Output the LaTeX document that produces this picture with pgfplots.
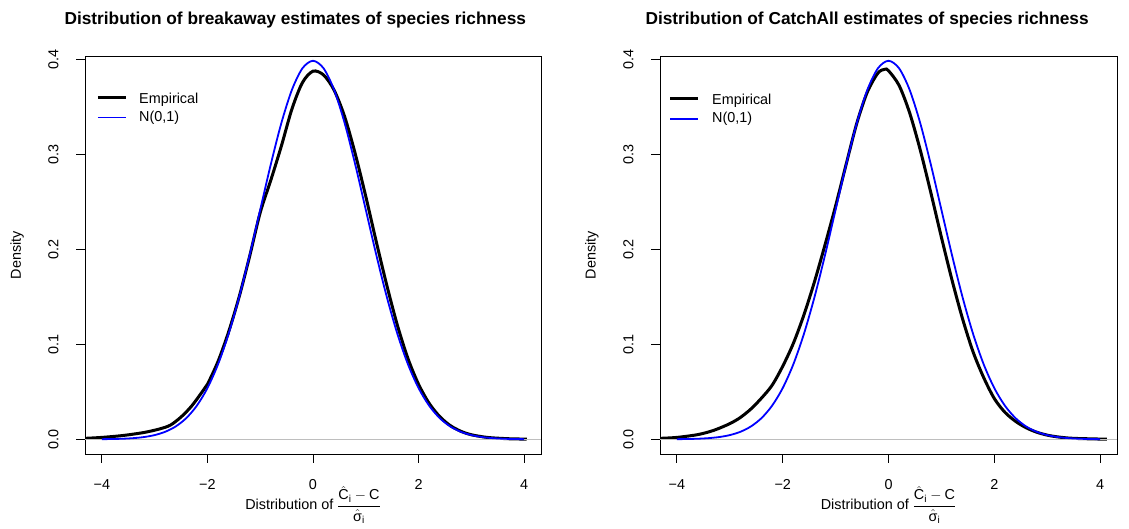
\documentclass[border=0pt]{standalone}
\usepackage{fontspec}
\setmainfont{Liberation Sans}
\usepackage{amsmath}
\usepackage{pgfplots}
\pgfplotsset{compat=1.18}
\definecolor{rgray}{RGB}{190,190,190}
\definecolor{rblue}{RGB}{0,0,255}

\pgfplotstableread{
x y
-4.0 0.00013
-3.8 0.00029
-3.6 0.00061
-3.4 0.00123
-3.2 0.00238
-3.0 0.00443
-2.8 0.00792
-2.6 0.01358
-2.4 0.02239
-2.2 0.03547
-2.0 0.05399
-1.8 0.07895
-1.6 0.11092
-1.4 0.14973
-1.2 0.19419
-1.0 0.24197
-0.8 0.28969
-0.6 0.33322
-0.4 0.36827
-0.2 0.39104
0.0 0.39894
0.2 0.39104
0.4 0.36827
0.6 0.33322
0.8 0.28969
1.0 0.24197
1.2 0.19419
1.4 0.14973
1.6 0.11092
1.8 0.07895
2.0 0.05399
2.2 0.03547
2.4 0.02239
2.6 0.01358
2.8 0.00792
3.0 0.00443
3.2 0.00238
3.4 0.00123
3.6 0.00061
3.8 0.00029
4.0 0.00013
}\normaltab

\pgfplotstableread{
x y
-4.32 0.0010
-4.0 0.0020
-3.6 0.0040
-3.2 0.0072
-2.9 0.0110
-2.7 0.0150
-2.5 0.0235
-2.3 0.0350
-2.1 0.0500
-2.0 0.0580
-1.8 0.0820
-1.6 0.1130
-1.4 0.1500
-1.2 0.1930
-1.0 0.2390
-0.8 0.2730
-0.6 0.3090
-0.4 0.3480
-0.2 0.3760
0.0 0.3880
0.2 0.3840
0.4 0.3680
0.6 0.3400
0.8 0.3010
1.0 0.2560
1.2 0.2080
1.4 0.1620
1.6 0.1200
1.8 0.0850
2.0 0.0580
2.2 0.0380
2.4 0.0240
2.6 0.0145
2.8 0.0085
3.0 0.0048
3.3 0.0020
3.7 0.0006
4.05 0.0002
}\breakaway

\pgfplotstableread{
x y
-4.32 0.0010
-4.0 0.0020
-3.6 0.0050
-3.3 0.0095
-3.0 0.0165
-2.8 0.0230
-2.6 0.0320
-2.4 0.0435
-2.2 0.0570
-2.0 0.0770
-1.8 0.1010
-1.6 0.1310
-1.4 0.1660
-1.2 0.2050
-1.0 0.2460
-0.8 0.2900
-0.6 0.3330
-0.4 0.3660
-0.2 0.3860
-0.07 0.3900
0.0 0.3885
0.2 0.3730
0.4 0.3440
0.6 0.3050
0.8 0.2600
1.0 0.2130
1.2 0.1680
1.4 0.1270
1.6 0.0920
1.8 0.0650
2.0 0.0430
2.2 0.0285
2.4 0.0190
2.6 0.0122
2.8 0.0075
3.0 0.0044
3.2 0.0025
3.5 0.0010
4.13 0.0001
}\catchall

\newcommand{\xlab}{Distribution of $\dfrac{\hat{\text{C}}_{\text{i}}-\text{C}\rule[-3bp]{0pt}{15bp}}{\hat{\text{σ}}_{\text{i}}\rule{0pt}{13bp}}$}

\pgfplotsset{
  rpanel/.style={
    scale only axis, width=#1, height=398bp,
    xmin=-4.32, xmax=4.32, ymin=-0.0155, ymax=0.404,
    axis line style={line width=0.9bp},
    xtick={-4,-2,0,2,4}, xticklabels={−4,−2,0,2,4},
    ytick={0,0.1,0.2,0.3,0.4}, yticklabels={0.0,0.1,0.2,0.3,0.4},
    tick align=outside, xtick pos=bottom, ytick pos=left,
    major tick length=8.6bp,
    tick style={line width=0.9bp, black},
    ticklabel style={font=\fontsize{14.4bp}{17bp}\selectfont},
    xticklabel style={anchor=base},
    xticklabel shift=27bp,
    yticklabel style={rotate=90, anchor=base},
    yticklabel shift=18bp,
    label style={font=\fontsize{14.4bp}{17bp}\selectfont},
    xlabel style={at={(axis description cs:0.5,0)}, anchor=base, yshift=-55.6bp},
    ylabel style={at={(axis description cs:-0.149,0.5)}, anchor=center},
    legend style={fill=none, draw=none, anchor=north west, inner sep=0pt,
      nodes={inner sep=0pt}, column sep=0pt,
      font=\fontsize{14.4bp}{17bp}\selectfont, row sep=6.5bp},
    legend cell align=left,
    legend image code/.code={},
    clip=true,
  },
}

\begin{document}
\begin{tikzpicture}
\path[use as bounding box, fill=white] (0,0) rectangle (1129bp,529bp);

\begin{axis}[rpanel=456bp, at={(85bp,75bp)}, anchor=south west,
  xlabel={\xlab},
  ylabel={Density},
  legend style={at={(axis description cs:0.0285,0.9085)}}]
\addlegendimage{black}
\addlegendentry{\hspace*{41bp}Empirical}
\addlegendimage{blue}
\addlegendentry{\hspace*{41bp}N(0,1)}
% legend key lines
\addplot[draw=blue, line width=1.8bp, forget plot] coordinates {(-4.074,0.3392) (-3.543,0.3392)};
\addplot[draw=black, line width=3bp, forget plot] coordinates {(-4.074,0.3600) (-3.543,0.3600)};
\addplot[draw=black, line width=3bp, smooth, forget plot] table[x=x,y=y] {\breakaway};
\addplot[draw=rgray, line width=0.8bp, forget plot] coordinates {(-4.32,0) (4.32,0)};
\addplot[draw=blue, line width=1.8bp, smooth, forget plot] table[x=x,y=y] {\normaltab};
\end{axis}

\begin{axis}[rpanel=457bp, at={(660bp,75bp)}, anchor=south west,
  xlabel={\xlab},
  ylabel={Density},
  legend style={at={(axis description cs:0.0219,0.9053)}}]
\addlegendimage{black}
\addlegendentry{\hspace*{42bp}Empirical}
\addlegendimage{blue}
\addlegendentry{\hspace*{42bp}N(0,1)}
% legend key lines
\addplot[draw=blue, line width=1.8bp, forget plot] coordinates {(-4.131,0.3378) (-3.602,0.3378)};
\addplot[draw=black, line width=3bp, forget plot] coordinates {(-4.131,0.3587) (-3.602,0.3587)};
\addplot[draw=black, line width=3bp, smooth, forget plot] table[x=x,y=y] {\catchall};
\addplot[draw=rgray, line width=0.8bp, forget plot] coordinates {(-4.32,0) (4.32,0)};
\addplot[draw=blue, line width=1.8bp, smooth, forget plot] table[x=x,y=y] {\normaltab};
\end{axis}

\node[anchor=base west, font=\bfseries\fontsize{17.3bp}{20bp}\selectfont] at (61bp,504bp) {Distribution of breakaway estimates of species richness};
\node[anchor=base west, font=\bfseries\fontsize{17.3bp}{20bp}\selectfont] at (642bp,504bp) {Distribution of CatchAll estimates of species richness};
\end{tikzpicture}
\end{document}
